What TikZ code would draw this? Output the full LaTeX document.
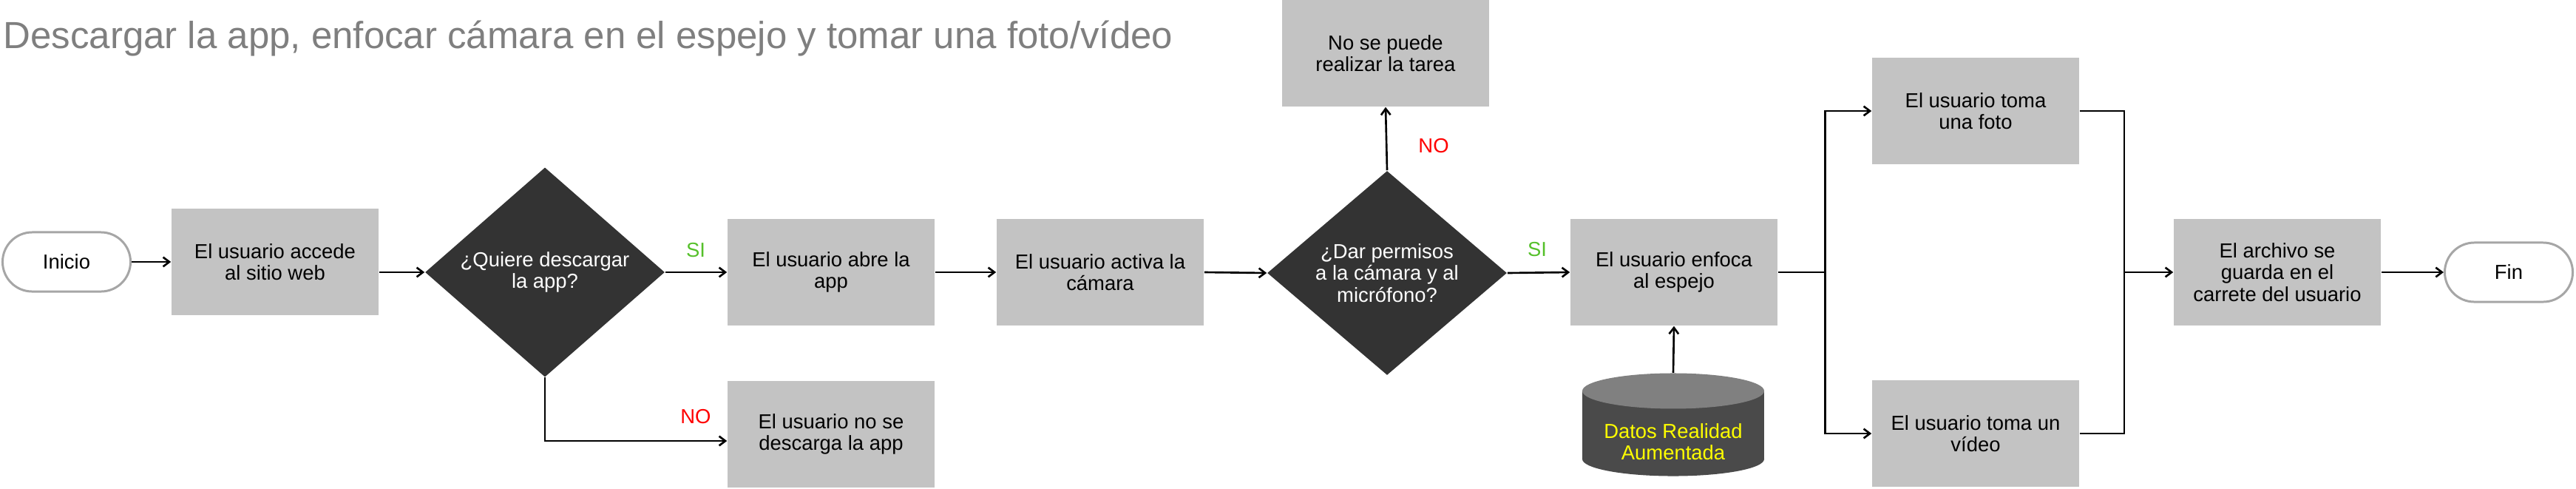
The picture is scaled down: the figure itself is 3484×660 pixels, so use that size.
\documentclass[tikz,border=0pt]{standalone}
\usepackage{fontspec}
\setmainfont{Liberation Sans}
\usetikzlibrary{shapes.geometric,arrows.meta}
\definecolor{cajagris}{HTML}{C3C3C3}
\definecolor{rombogris}{HTML}{333333}
\definecolor{bordegris}{HTML}{A6A6A6}
\definecolor{verdesi}{HTML}{55C02A}
\definecolor{titulogris}{HTML}{7F7F7F}
\definecolor{bdtapa}{HTML}{808080}
\definecolor{bdcuerpo}{HTML}{4A4A4A}
\definecolor{amarillobd}{HTML}{FFFF00}

\begin{document}
\begin{tikzpicture}[x=0.01cm,y=-0.01cm,
  every node/.style={font=\fontsize{7.8pt}{8.3pt}\selectfont},
  paso/.style={fill=cajagris,minimum width=2.8cm,minimum height=1.44cm,align=center,inner sep=0pt},
  decision/.style={diamond,fill=rombogris,text=white,minimum width=3.24cm,minimum height=2.76cm,align=center,inner sep=0pt},
  terminal/.style={draw=bordegris,line width=0.85pt,fill=white,rounded corners=0.4cm,minimum width=1.73cm,minimum height=0.8cm},
  basedatos/.style={fill=white,minimum width=2.46cm,minimum height=1.39cm,inner sep=0pt,
    path picture={
      \fill[bdcuerpo] ([yshift=-0.24cm]path picture bounding box.north west) rectangle ([yshift=0.23cm]path picture bounding box.south east);
      \fill[bdcuerpo] ([yshift=0.23cm]path picture bounding box.south) ellipse[x radius=123,y radius=23];
      \fill[bdtapa] ([yshift=-0.24cm]path picture bounding box.north) ellipse[x radius=123,y radius=24];
    }},
  etiqsi/.style={text=verdesi},
  etiqno/.style={text=red},
  flecha/.style={line width=0.75pt,-{Straight Barb[length=2.4pt,width=3.6pt]}},
  linea/.style={line width=0.75pt}]
  \useasboundingbox (0,0) rectangle (3484,660);
  % titulo
  \node[anchor=base west,inner sep=0pt,text=titulogris,font=\fontsize{14.5pt}{17pt}\selectfont] (titulo) at (4,65) {Descargar la app, enfocar cámara en el espejo y tomar una foto/vídeo};
  % pasos
  \node[terminal] (inicio) at (90,354) {Inicio};
  \node[paso] (acceso) at (372,354) {El usuario accede\\al sitio web};
  \node[decision] (quiere) at (737,368) {¿Quiere descargar\\la app?};
  \node[paso] (abre) at (1124,368) {El usuario abre la\\app};
  \node[paso] (nodescarga) at (1124,587) {El usuario no se\\descarga la app};
  \node[paso] (activa) at (1488,368) {El usuario activa la\\cámara};
  \node[decision] (permisos) at (1876,369) {¿Dar permisos\\a la cámara y al\\micrófono?};
  \node[paso] (notarea) at (1874,72) {No se puede\\realizar la tarea};
  \node[paso] (enfoca) at (2264,368) {El usuario enfoca\\al espejo};
  \node[basedatos,label={[text=amarillobd,align=center,yshift=-0.23cm]center:Datos Realidad\\Aumentada}] (datos) at (2263,574) {};
  \node[paso] (foto) at (2672,150) {El usuario toma\\una foto};
  \node[paso] (video) at (2672,586) {El usuario toma un\\vídeo};
  \node[paso] (archivo) at (3080,368) {El archivo se\\guarda en el\\carrete del usuario};
  \node[terminal] (fin) at (3393,368) {Fin};
  % etiquetas
  \node[etiqsi] (si1) at (941,338) {SI};
  \node[etiqno] (no1) at (941,563) {NO};
  \node[etiqno] (no2) at (1939,197) {NO};
  \node[etiqsi] (si2) at (2079,337) {SI};
  % conectores
  \draw[flecha] (inicio.east) -- (acceso.west);
  \draw[flecha] (acceso.east |- quiere.west) -- (quiere.west);
  \draw[flecha] (quiere.east) -- (abre.west);
  \draw[flecha] (quiere.south) |- ([yshift=-0.09cm]nodescarga.west);
  \draw[flecha] (abre.east) -- (activa.west);
  \draw[flecha] (activa.east) -- (permisos.west);
  \draw[flecha] (permisos.north) -- (notarea.south);
  \draw[flecha] (permisos.east) -- (enfoca.west);
  \draw[flecha] (datos.north) -- (enfoca.south);
  \draw[linea] (enfoca.east) -- ++(64,0) coordinate (reparto);
  \draw[flecha] (reparto) |- (foto.west);
  \draw[flecha] (reparto) |- (video.west);
  \coordinate (union) at (2873,368);
  \draw[linea] (foto.east) -| (union) |- (video.east);
  \draw[flecha] (union) -- (archivo.west);
  \draw[flecha] (archivo.east) -- (fin.west);
\end{tikzpicture}
\end{document}
